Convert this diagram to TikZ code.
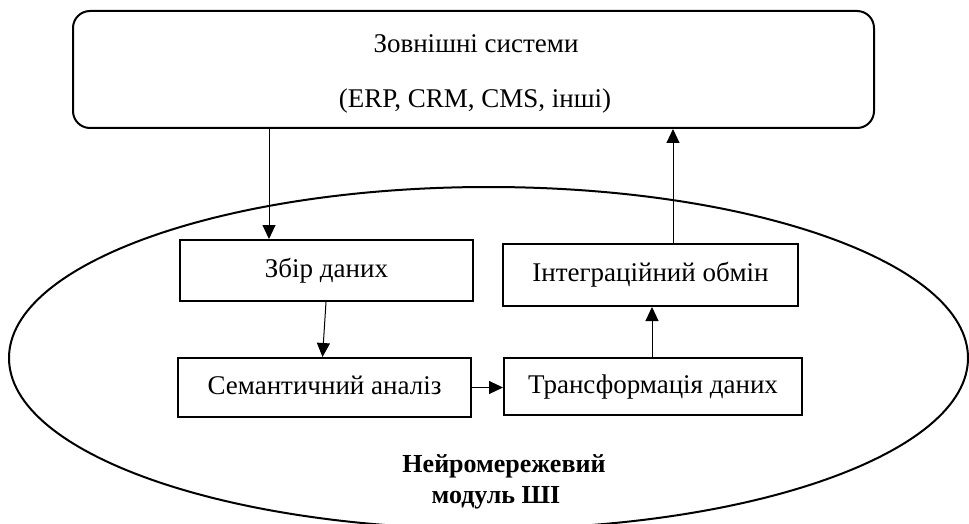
\documentclass[tikz,border=0pt]{standalone}
\usepackage{fontspec}
\setmainfont{Liberation Serif}
\usetikzlibrary{arrows.meta}
\begin{document}
\begin{tikzpicture}[x=1pt,y=-1pt,
  txt/.style={font=\fontsize{27}{31}\selectfont, inner sep=0pt},
  stepbox/.style={draw, line width=2pt, inner sep=0pt, fill=white,
    font=\fontsize{27}{31}\selectfont, text height=18pt, text depth=5pt},
  arr/.style={line width=1pt, -{Triangle[length=14pt,width=13pt]}}]
\clip (0,0) rectangle (969,524);
\fill[white] (0,0) rectangle (969,524);
% module ellipse
\draw[line width=2pt] (488.5,358) ellipse [x radius=479.5pt, y radius=171pt];
% external systems
\node[draw, line width=2pt, rounded corners=17pt, minimum width=801pt, minimum height=117pt, inner sep=0pt] (ext) at (473.5,69.5) {};
\node[txt, anchor=base] (t1) at (476,53) {Зовнішні системи};
\node[txt, anchor=base] (t2) at (475,108) {(ERP, CRM, CMS, інші)};
% boxes
\node[stepbox, minimum width=293pt, minimum height=61pt] (zbir) at (326.5,270.5) {Збір даних};
\node[stepbox, minimum width=295pt, minimum height=62pt] (integ) at (650.5,275) {Інтеграційний обмін};
\node[stepbox, minimum width=293pt, minimum height=59pt] (sem) at (324.5,387.5) {Семантичний аналіз};
\node[stepbox, minimum width=298pt, minimum height=57pt] (trans) at (653,386.5) {Трансформація даних};
% label
\node[inner sep=0pt, font=\fontsize{26}{30}\selectfont\bfseries, anchor=base] (l1) at (504,472) {Нейромережевий};
\node[inner sep=0pt, font=\fontsize{26}{30}\selectfont\bfseries, anchor=base] (l2) at (496,503) {модуль ШІ};
% connectors
\coordinate (c1) at (269,0);
\coordinate (c2) at (673,0);
\coordinate (c3) at (652,0);
\draw[arr] (ext.south -| c1) -- (zbir.north -| c1);
\draw[arr] (integ.north -| c2) -- (ext.south -| c2);
\draw[arr] ([xshift=-0.5pt]zbir.south) -- ([xshift=-2pt]sem.north);
\draw[arr] (sem.east) -- (trans.west |- sem.east);
\draw[arr] (trans.north -| c3) -- (integ.south -| c3);
\end{tikzpicture}
\end{document}
